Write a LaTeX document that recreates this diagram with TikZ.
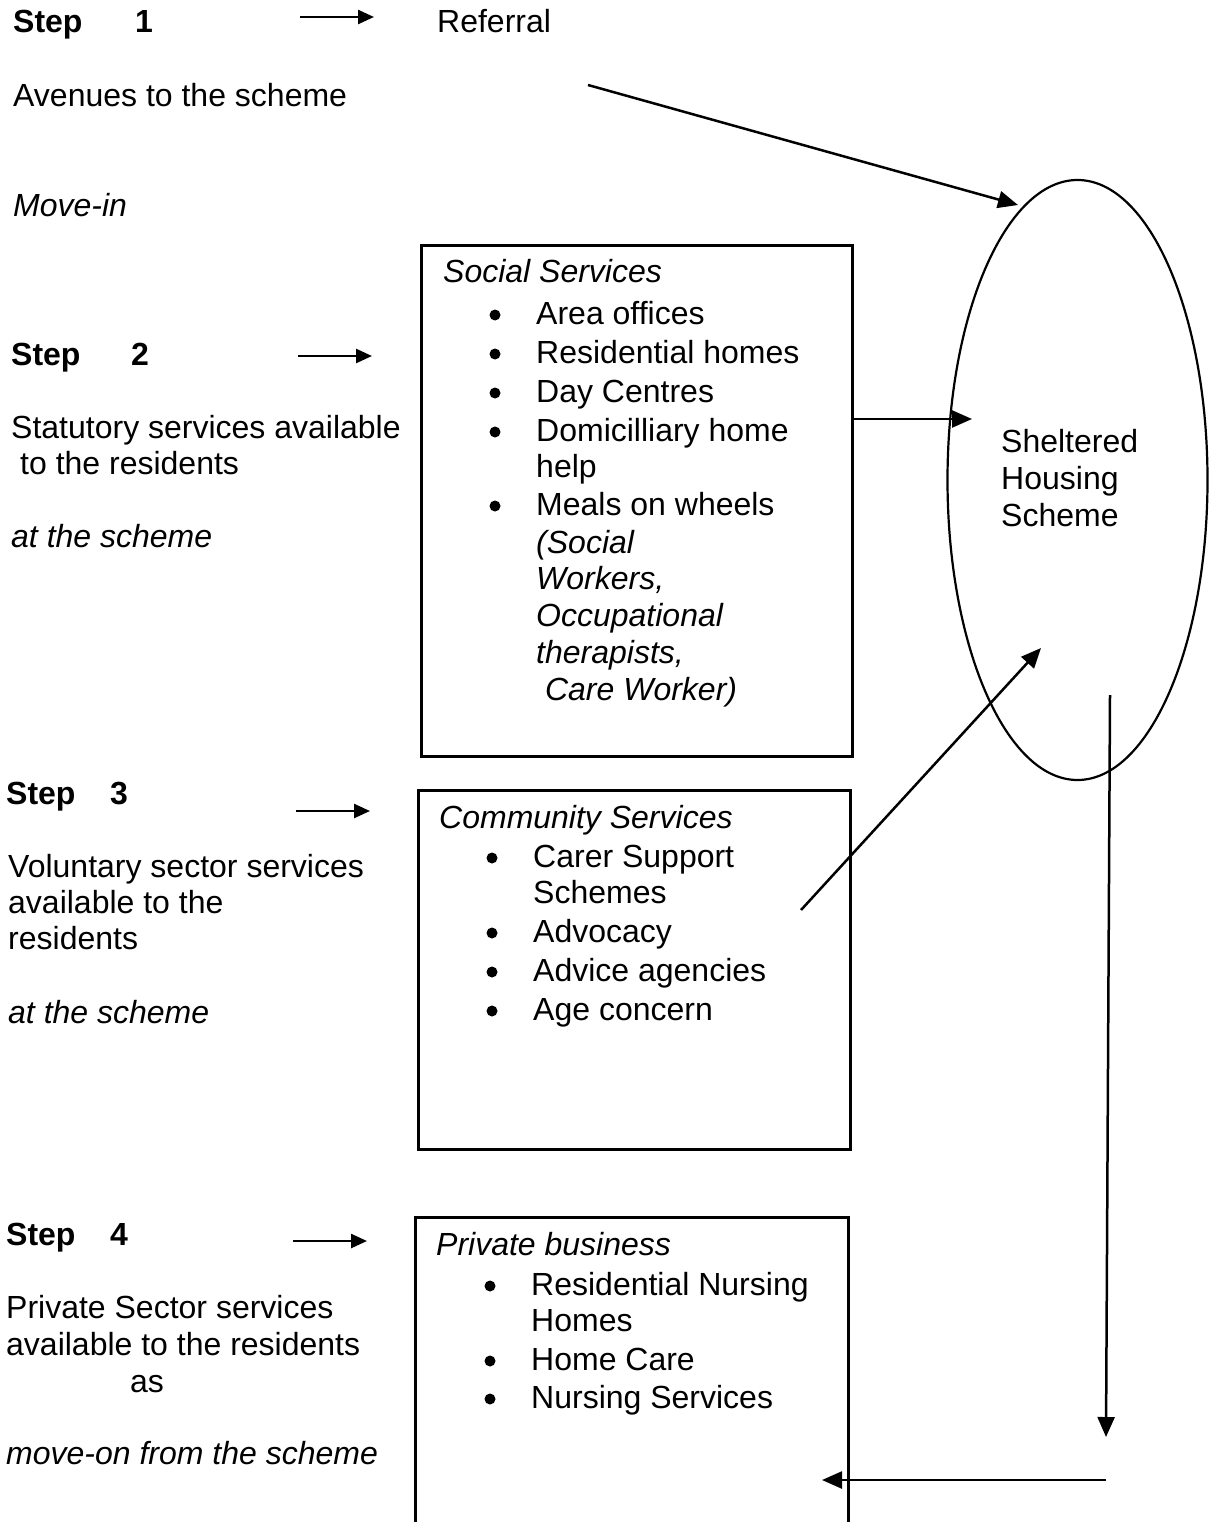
\documentclass[tikz,border=0pt]{standalone}
\usepackage{fontspec}
\setmainfont{Liberation Sans}
\usepackage{tikz}
\usetikzlibrary{arrows.meta,shapes.geometric}

\begin{document}
\begin{tikzpicture}[x=1pt,y=-1pt,
  txt/.style={anchor=base west,inner sep=0pt,font=\fontsize{32}{37}\selectfont},
  dot/.style={circle,fill,inner sep=0pt,minimum size=11pt},
  box/.style={draw,line width=2.6pt,anchor=north west,inner sep=0pt},
  arr/.style={line width=2.5pt,-{Triangle[length=20pt,width=17pt]}},
  sarr/.style={line width=2.5pt,-{Triangle[length=16pt,width=14pt]}}]

\useasboundingbox (0,0) rectangle (1212,1522);

% Left column: the four steps
\node[txt] (step1) at (13,33) {\textbf{\makebox[122pt][l]{Step}1}};
\node[txt] (avenues) at (13,107) {Avenues to the scheme};
\node[txt] (movein) at (13,217) {\textit{Move-in}};

\node[txt] (step2) at (11,365) {\textbf{\makebox[120pt][l]{Step}2}};
\node[txt] (statutory) at (11,438) {Statutory services available};
\node[txt] (statutory2) at (20,474) {to the residents};
\node[txt] (atscheme2) at (11,547) {\textit{at the scheme}};

\node[txt] (step3) at (6,804) {\textbf{\makebox[104pt][l]{Step}3}};
\node[txt] (voluntary) at (8,877) {Voluntary sector services};
\node[txt] (voluntary2) at (8,913) {available to the};
\node[txt] (voluntary3) at (8,949) {residents};
\node[txt] (atscheme3) at (8,1023) {\textit{at the scheme}};

\node[txt] (step4) at (6,1245) {\textbf{\makebox[104pt][l]{Step}4}};
\node[txt] (private1) at (6,1318) {Private Sector services};
\node[txt] (private2) at (6,1355) {available to the residents};
\node[txt] (private3) at (130,1392) {as};
\node[txt] (moveon) at (6,1464) {\textit{move-on from the scheme}};

% Short arrows after each step
\foreach \x/\y [count=\i] in {300/17,298/356,296/811,293/1241}
{
  \coordinate (steparrow\i) at (\x,\y);
  \draw[sarr] (steparrow\i) -- ++(74,0);
}

\node[txt] (referral) at (437,33) {Referral};

% Social Services box
\node[box,minimum width=431,minimum height=511] (social) at (420,244) {};
\node[txt] (socialhead) at (443,283) {\textit{Social Services}};
\foreach \y/\t [count=\i] in {324/Area offices,363/Residential homes,402/Day Centres,441/Domicilliary home,477/help,515/Meals on wheels}
  \node[txt] (social\i) at (536,\y) {\t};
\foreach \y/\t [count=\i] in {553/(Social,589/{Workers,},626/Occupational,663/{therapists,},700/{\ Care Worker)}}
  \node[txt] (socialwork\i) at (536,\y) {\textit{\t}};
\foreach \y [count=\i] in {324,363,402,441,515}
  \node[dot] (socialdot\i) at (495,\y-9) {};

% Community Services box
\node[box,minimum width=432,minimum height=359] (community) at (417,789) {};
\node[txt] (communityhead) at (439,828) {\textit{Community Services}};
\foreach \y/\t [count=\i] in {867/Carer Support,903/Schemes,942/Advocacy,981/Advice agencies,1020/Age concern}
  \node[txt] (community\i) at (533,\y) {\t};
\foreach \y [count=\i] in {867,942,981,1020}
  \node[dot] (communitydot\i) at (492,\y-9) {};

% Private business box (runs off the page)
\node[box,minimum width=433,minimum height=340] (private) at (414,1216) {};
\node[txt] (privatehead) at (436,1255) {\textit{Private business}};
\foreach \y/\t [count=\i] in {1295/Residential Nursing,1331/Homes,1370/Home Care,1408/Nursing Services}
  \node[txt] (privateitem\i) at (531,\y) {\t};
\foreach \y [count=\i] in {1295,1370,1408}
  \node[dot] (privatedot\i) at (490,\y-9) {};

% The scheme
\node[draw,ellipse,line width=2.2pt,inner sep=0pt,minimum width=260,minimum height=600] (shs) at (1077.5,480) {};
\foreach \y/\t [count=\i] in {452/Sheltered,489/Housing,526/Scheme}
  \node[txt] (shs\i) at (1001,\y) {\t};

% Arrows into and out of the scheme
\coordinate (refstart) at (588,85);
\coordinate (refend) at (1018,205);
\draw[arr] (refstart) -- (refend);

\coordinate (shsleft) at (972,419);
\draw[arr] (social.east |- shsleft) -- (shsleft);

\coordinate (commout) at (801,910);
\coordinate (commin) at (1041,648);
\draw[arr] (commout) -- (commin);

\coordinate (downtop) at (1110,695);
\coordinate (downend) at (1106,1437);
\draw[arr] (downtop) -- (downend);

\coordinate (backstart) at (1106,1480);
\coordinate (backend) at (822,1480);
\draw[arr] (backstart) -- (backend);

\end{tikzpicture}
\end{document}
